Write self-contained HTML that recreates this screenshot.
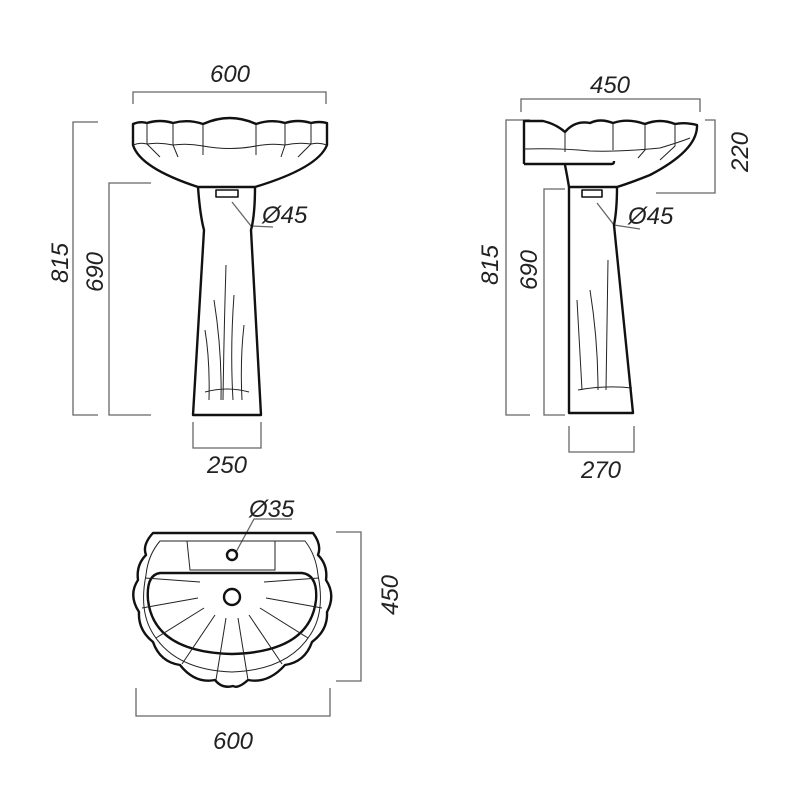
<!DOCTYPE html>
<html><head><style>
html,body{margin:0;padding:0;background:#fff;}
svg{display:block;}
text{font-family:"Liberation Sans",sans-serif;font-style:italic;font-size:24px;fill:#222;}
</style></head><body>
<svg width="800" height="800" viewBox="0 0 800 800" xmlns="http://www.w3.org/2000/svg">
<g fill="none" stroke="#666" stroke-width="1.3">
<polyline points="133,104 133,92 326,92 326,104"/>
<polyline points="98,122 73,122 73,415 98,415"/>
<polyline points="151,183 109,183 109,415 151,415"/>
<polyline points="193,422 193,448 261,448 261,422"/>
<polyline points="232,202 251,226 273,227"/>
<polyline points="521,112 521,99 700,99 700,112"/>
<polyline points="530,120 506,120 506,415 530,415"/>
<polyline points="565,189 544,189 544,415 565,415"/>
<polyline points="705,120 715,120 715,193 656,193"/>
<polyline points="569,426 569,452 634,452 634,426"/>
<polyline points="597,203 614,225 640,229"/>
<polyline points="336,532 361,532 361,681 336,681"/>
<polyline points="136,688 136,716 330,716 330,688"/>
<polyline points="236,552 254,519 292,519"/>
</g>
<g fill="none" stroke="#111" stroke-width="2.4" stroke-linejoin="round">
<path d="M133,124 Q140,121 147,123 Q160,119 173,123 Q188,119 203,124 Q230,112 256,124 Q271,119 285,123 Q298,119 311,123 Q319,121 327,123 L327,145 Q318,168 255,187 L198,187 Q140,168 133,145 Z"/>
<path d="M198,187 Q200,215 204,230 L193,415 L261,415 L251,230 Q255,215 255,187"/>
<rect x="216" y="190" width="22" height="7" stroke-width="1.6"/>
<!-- side basin -->
<path d="M524,164 L524,121 L543,121 Q556,124 565,132 Q575,120 590,123 Q600,118 613,123 Q628,118 645,124 Q660,118 675,124 Q685,122 697,125 Q698,150 650,175 Q630,183 617,187 L569,187 Q567,175 565,165"/>
<path d="M524,164 L612,164 Q614,164 614,161"/>
<path d="M569,187 L569,413 L633,413 L614,225 Q617,210 617,187"/>
<rect x="582" y="190" width="20" height="7" stroke-width="1.6"/>
<!-- top view -->
<path d="M153,533 L313,533 Q322,545 318,555 Q328,565 326,580 Q336,595 327,612 Q328,630 312,642 Q305,662 285,665 Q268,684 248,680 Q238,689 233,686 Q222,689 215,680 Q195,684 180,665 Q160,662 153,642 Q138,630 139,612 Q128,595 138,580 Q136,565 146,555 Q142,545 153,533 Z"/>
<path d="M160,573 L302,573 Q318,575 316,600 Q310,652 232,654 Q154,652 148,600 Q146,575 160,573 Z"/>
<circle cx="232" cy="555" r="5"/>
<circle cx="232" cy="597" r="8"/>
</g>
<g fill="none" stroke="#222" stroke-width="1">
<path d="M133,145 Q140,142 147,144 Q160,142 173,145 Q188,143 203,146 Q230,151 256,146 Q271,143 285,145 Q298,142 311,144 Q319,142 327,145"/>
<path d="M147,123 V144 L160,157 M173,123 V145 L178,157 M203,124 V155 M256,124 V155 M285,123 V145 L281,157 M311,123 V144 L298,157"/>
<path d="M205,392 Q227,386 249,392"/>
<path d="M205,330 Q210,360 209,400 M214,300 Q222,350 221,400 M226,265 Q224,330 223,400 M234,295 Q230,350 233,400 M244,325 Q240,360 242,400"/>
<path d="M524,149 Q560,148 590,151 Q620,152 660,148 Q680,142 690,138"/>
<path d="M565,132 V152 M613,123 V150 M645,124 V150 L638,158 M675,124 V146 L660,160"/>
<path d="M578,390 Q605,385 632,388 M577,300 L582,390 M590,290 Q598,340 598,390 M608,260 L606,390"/>
<path d="M160,541 L305,541 Q316,555 318,575 Q325,610 312,632 Q290,670 232,672 Q174,670 152,632 Q139,610 146,575 Q148,555 160,541 Z"/>
<path d="M187,541 L190,570 L275,570 L275,541"/>
<path d="M200,582 L145,578 M198,598 L142,608 M204,608 L156,638 M215,615 L182,664 M226,618 L216,680 M238,618 L248,680 M249,615 L282,664 M260,608 L308,638 M266,598 L322,608 M264,582 L319,578"/>
</g>
<text x="230" y="82" text-anchor="middle">600</text>
<text x="227" y="473" text-anchor="middle">250</text>
<text x="0" y="0" text-anchor="middle" transform="translate(68,263) rotate(-90)">815</text>
<text x="0" y="0" text-anchor="middle" transform="translate(103,272) rotate(-90)">690</text>
<text x="262" y="223">Ø45</text>
<text x="610" y="93" text-anchor="middle">450</text>
<text x="601" y="478" text-anchor="middle">270</text>
<text x="0" y="0" text-anchor="middle" transform="translate(498,265) rotate(-90)">815</text>
<text x="0" y="0" text-anchor="middle" transform="translate(537,270) rotate(-90)">690</text>
<text x="0" y="0" text-anchor="middle" transform="translate(748,152) rotate(-90)">220</text>
<text x="628" y="224">Ø45</text>
<text x="249" y="517">Ø35</text>
<text x="0" y="0" text-anchor="middle" transform="translate(398,595) rotate(-90)">450</text>
<text x="233" y="749" text-anchor="middle">600</text>
</svg>
</body></html>
